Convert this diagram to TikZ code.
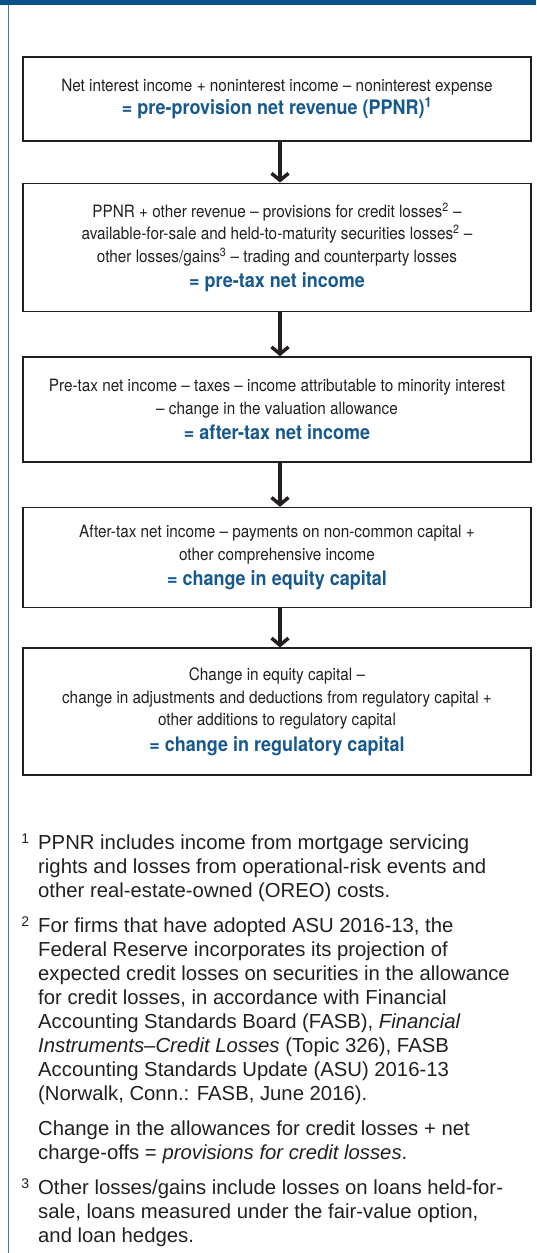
\documentclass[tikz,border=0pt]{standalone}
\usepackage{fontspec}
\setmainfont{Liberation Sans}
\newfontfamily\boxfont[FakeStretch=0.9]{TeX Gyre Heros}
\usetikzlibrary{
  positioning,
  arrows.meta
}
\definecolor{fedblue}{HTML}{17598F}
\definecolor{barblue}{HTML}{0B5089}
\definecolor{rimblue}{HTML}{3B78B0}
\definecolor{inkgray}{HTML}{231F20}
\tikzset{calcbox/.style={
  draw=inkgray, line width=1.6pt,
  minimum width=508pt,
  align=center,
  text=inkgray,
  font=\boxfont\fontsize{17}{22.5}\selectfont
}}
\tikzset{flow/.style={
  draw=inkgray, line width=3.5pt,
  -{Straight Barb[length=7pt,width=17pt]}
}}
\tikzset{note/.style={
  anchor=base west, align=left,
  inner sep=0pt, text=inkgray,
  font=\fontsize{20.3}{24}\selectfont
}}
\providecommand{\totalline}[1]{{\fontsize{20}{24}\selectfont\bfseries\color{fedblue}#1}}
\providecommand{\fnmark}[1]{\llap{\raisebox{6pt}{\fontsize{14}{14}\selectfont #1}\hspace{9pt}}}

\begin{document}
\begin{tikzpicture}[x=1pt,y=-1pt]
    \useasboundingbox (0,0) rectangle (536,1253);
    \fill [barblue] (0,0) rectangle (536,5);
    \draw [rimblue,line width=1.5pt] (8.5,5) -- (8.5,1253);

    \node (ppnr) [calcbox,minimum height=84pt,anchor=north] at (277,56)
      {Net interest income + noninterest income – noninterest expense\\[1pt]
       \totalline{= pre-provision net revenue (PPNR)\textsuperscript{1}}};
    \node (pretax) [calcbox,minimum height=128pt,below=41pt of ppnr]
      {PPNR + other revenue – provisions for credit losses\textsuperscript{2} –\\
       available-for-sale and held-to-maturity securities losses\textsuperscript{2} –\\
       other losses/gains\textsuperscript{3} – trading and counterparty losses\\[3pt]
       \totalline{= pre-tax net income}};
    \node (aftertax) [calcbox,minimum height=105pt,below=44pt of pretax]
      {Pre-tax net income – taxes – income attributable to minority interest\\
       – change in the valuation allowance\\[3pt]
       \totalline{= after-tax net income}};
    \node (equity) [calcbox,minimum height=100pt,below=44pt of aftertax]
      {After-tax net income – payments on non-common capital +\\
       other comprehensive income\\[3pt]
       \totalline{= change in equity capital}};
    \node (regcap) [calcbox,minimum height=127pt,below=39pt of equity]
      {Change in equity capital –\\
       change in adjustments and deductions from regulatory capital +\\
       other additions to regulatory capital\\[3pt]
       \totalline{= change in regulatory capital}};

    \foreach \a/\b in {ppnr/pretax,pretax/aftertax,aftertax/equity,equity/regcap}
      \draw [flow] ([xshift=3pt]\a.south) -- ([xshift=3pt]\b.north);

    % footnotes (placed by the baseline of their last line)
    \node (noteone) [note] at (38,897)
      {\fnmark{1}PPNR includes income from mortgage servicing\\
       rights and losses from operational-risk events and\\
       other real-estate-owned (OREO) costs.};
    \node (notetwo) [note] at (38,1100)
      {\fnmark{2}For firms that have adopted ASU 2016-13, the\\
       Federal Reserve incorporates its projection of\\
       expected credit losses on securities in the allowance\\
       for credit losses, in accordance with Financial\\
       Accounting Standards Board (FASB), \textit{Financial}\\
       \textit{Instruments–Credit Losses} (Topic 326), FASB\\
       Accounting Standards Update (ASU) 2016-13\\
       (Norwalk, Conn.: FASB, June 2016).};
    \node (notetwob) [note] at (38,1159)
      {Change in the allowances for credit losses + net\\
       charge-offs = \textit{provisions for credit losses}.};
    \node (notethree) [note] at (38,1242)
      {\fnmark{3}Other losses/gains include losses on loans held-for-\\
       sale, loans measured under the fair-value option,\\
       and loan hedges.};
\end{tikzpicture}
\end{document}
